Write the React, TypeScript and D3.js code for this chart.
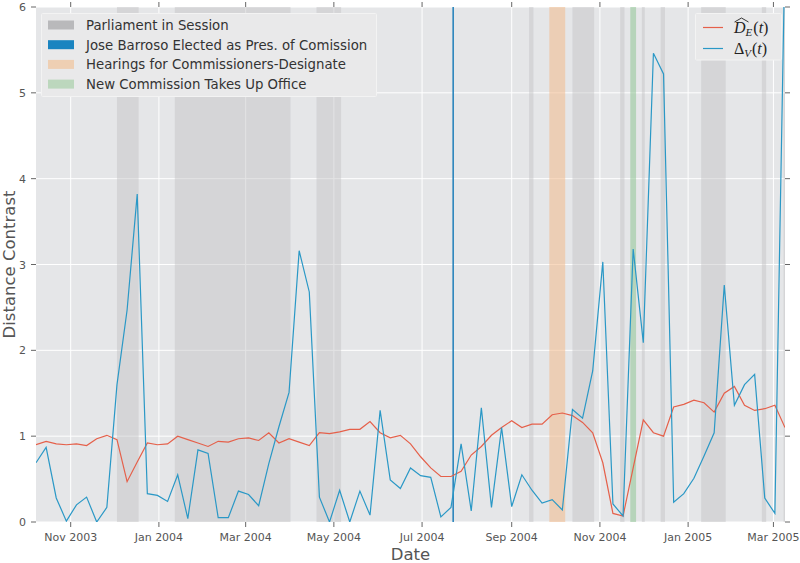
import React from 'react'
import * as d3 from 'd3'

const W = 800
const H = 563
const M = { left: 36, right: 15, top: 7, bottom: 41 }

// weekly sampling grid, first week Oct 8 2003
const START = Date.UTC(2003, 9, 8)
const N_WEEKS = 75
const dates = d3.range(N_WEEKS).map(i => new Date(START + i * 7 * 864e5))

// \hat D_E(t)
const distE = [
  0.9, 0.94, 0.91, 0.9, 0.91, 0.89, 0.97, 1.01, 0.96, 0.47,
  0.7, 0.92, 0.9, 0.91, 1.0, 0.96, 0.92, 0.88, 0.94, 0.93,
  0.97, 0.98, 0.95, 1.04, 0.92, 0.97, 0.93, 0.89, 1.04, 1.03,
  1.05, 1.08, 1.08, 1.17, 1.04, 0.98, 1.01, 0.91, 0.76, 0.63,
  0.53, 0.53, 0.59, 0.78, 0.88, 1.01, 1.1, 1.18, 1.1, 1.14,
  1.14, 1.25, 1.27, 1.24, 1.16, 1.04, 0.69, 0.1, 0.07, 0.63,
  1.19, 1.04, 1.0, 1.34, 1.37, 1.42, 1.39, 1.28, 1.5, 1.58,
  1.36, 1.3, 1.32, 1.36, 1.1,
]

// Delta_V(t)
const deltaV = [
  0.69, 0.87, 0.28, 0.01, 0.2, 0.29, 0.0, 0.17, 1.6, 2.47,
  3.82, 0.33, 0.31, 0.24, 0.55, 0.04, 0.84, 0.8, 0.05, 0.05,
  0.36, 0.32, 0.19, 0.68, 1.11, 1.51, 3.16, 2.68, 0.29, 0.0,
  0.37, 0.0, 0.36, 0.08, 1.3, 0.49, 0.39, 0.63, 0.54, 0.52,
  0.06, 0.17, 0.91, 0.13, 1.33, 0.17, 1.1, 0.18, 0.55, 0.37,
  0.22, 0.26, 0.14, 1.31, 1.21, 1.76, 3.03, 0.21, 0.07, 3.18,
  2.09, 5.46, 5.22, 0.23, 0.33, 0.51, 0.77, 1.04, 2.76, 1.36,
  1.6, 1.72, 0.28, 0.1, 6.7,
]

const sessions: [string, string][] = [
  ['2003-12-03', '2003-12-18'], ['2004-01-12', '2004-04-01'], ['2004-04-19', '2004-05-06'],
  ['2004-09-13', '2004-09-16'], ['2004-10-13', '2004-10-28'], ['2004-11-15', '2004-11-18'],
  ['2004-11-30', '2004-12-02'], ['2004-12-13', '2004-12-16'], ['2005-01-10', '2005-01-27'],
  ['2005-02-21', '2005-02-24'], ['2005-03-08', '2005-03-10'],
]
const barroso: [string, string] = ['2004-07-22', '2004-07-23']
const hearings: [string, string] = ['2004-09-27', '2004-10-08']
const newCommission: [string, string] = ['2004-11-22', '2004-11-26']

const yTicks = [0, 1, 2, 3, 4, 5, 6]

const legendItems = [
  { label: 'Parliament in Session', color: '#b9b9bb' },
  { label: 'Jose Barroso Elected as Pres. of Comission', color: '#1a84c0' },
  { label: 'Hearings for Commissioners-Designate', color: '#eecfb3' },
  { label: 'New Commission Takes Up Office', color: '#bcd7bd' },
]

const RED = '#e5604a'
const BLUE = '#2a98c6'
const FONT = '"DejaVu Sans", sans-serif'

export default function App() {
  const ref = React.useRef<SVGSVGElement>(null)

  React.useEffect(() => {
    document.body.style.margin = '0'
    const svg = d3.select(ref.current!)
    svg.selectAll('*').remove()

    const x0 = M.left, x1 = W - M.right, y0 = H - M.bottom, y1 = M.top
    const parse = d3.utcParse('%Y-%m-%d')
    const x = d3.scaleUtc().domain([dates[0], dates[dates.length - 1]]).range([x0, x1])
    const y = d3.scaleLinear().domain([0, 6]).range([y0, y1])
    const xTicks = x.ticks(d3.utcMonth.every(2)!)
    const fmt = d3.utcFormat('%b %Y')

    svg.append('defs').append('clipPath').attr('id', 'plot')
      .append('rect').attr('x', x0).attr('y', y1).attr('width', x1 - x0).attr('height', y0 - y1)

    svg.append('rect').attr('x', x0).attr('y', y1).attr('width', x1 - x0).attr('height', y0 - y1)
      .attr('fill', '#e5e6e8')

    // grid
    const grid = svg.append('g').attr('stroke', '#fff').attr('stroke-width', 1)
    xTicks.forEach(t => grid.append('line').attr('x1', x(t)).attr('x2', x(t)).attr('y1', y1).attr('y2', y0))
    yTicks.forEach(t => grid.append('line').attr('x1', x0).attr('x2', x1).attr('y1', y(t)).attr('y2', y(t)))

    const plot = svg.append('g').attr('clip-path', 'url(#plot)')
    const band = (r: [string, string], fill: string, op: number) =>
      plot.append('rect')
        .attr('x', x(parse(r[0])!)).attr('y', y1)
        .attr('width', x(parse(r[1])!) - x(parse(r[0])!)).attr('height', y0 - y1)
        .attr('fill', fill).attr('opacity', op)
    sessions.forEach(s => band(s, '#c0c0c3', 0.45))
    band(hearings, '#f2b98a', 0.55)
    band(newCommission, '#8fc493', 0.55)
    band(barroso, '#1a7cb8', 1)

    const line = d3.line<number>().x((_, i) => x(dates[i])).y(d => y(d))
    plot.append('path').attr('d', line(distE)).attr('fill', 'none').attr('stroke', RED).attr('stroke-width', 1.2)
    plot.append('path').attr('d', line(deltaV)).attr('fill', 'none').attr('stroke', BLUE).attr('stroke-width', 1.2)

    // ticks on all four sides
    const tk = svg.append('g').attr('stroke', '#666').attr('stroke-width', 1)
    xTicks.forEach(t => {
      tk.append('line').attr('x1', x(t)).attr('x2', x(t)).attr('y1', y0).attr('y2', y0 + 5)
      tk.append('line').attr('x1', x(t)).attr('x2', x(t)).attr('y1', y1).attr('y2', y1 - 5)
    })
    yTicks.forEach(t => {
      tk.append('line').attr('x1', x0 - 5).attr('x2', x0).attr('y1', y(t)).attr('y2', y(t))
      tk.append('line').attr('x1', x1).attr('x2', x1 + 5).attr('y1', y(t)).attr('y2', y(t))
    })

    const lab = svg.append('g').attr('font-family', FONT).attr('fill', '#555')
    xTicks.forEach(t => lab.append('text').attr('x', x(t)).attr('y', y0 + 19)
      .attr('text-anchor', 'middle').attr('font-size', 11).text(fmt(t)))
    yTicks.forEach(t => lab.append('text').attr('x', x0 - 10).attr('y', y(t) + 4)
      .attr('text-anchor', 'end').attr('font-size', 11).text(String(t)))
    lab.append('text').attr('x', (x0 + x1) / 2).attr('y', H - 3).attr('text-anchor', 'middle')
      .attr('font-size', 16.5).text('Date')
    lab.append('text').attr('transform', `translate(15,${(y0 + y1) / 2}) rotate(-90)`)
      .attr('text-anchor', 'middle').attr('font-size', 16.5).text('Distance Contrast')

    // events legend
    const lg = svg.append('g')
    lg.append('rect').attr('x', 41.5).attr('y', 13.5).attr('width', 335).attr('height', 83)
      .attr('fill', '#e9e9ea').attr('stroke', '#f3f3f3').attr('rx', 1)
    legendItems.forEach((d, i) => {
      const cy = 25 + i * 19.7
      lg.append('rect').attr('x', 48).attr('y', cy - 4.5).attr('width', 26).attr('height', 9).attr('fill', d.color)
      lg.append('text').attr('x', 86).attr('y', cy + 5).attr('font-family', FONT).attr('font-size', 13.3)
        .attr('fill', '#333').text(d.label)
    })

    // series legend
    const sl = svg.append('g')
    sl.append('rect').attr('x', 695.5).attr('y', 13.5).attr('width', 86).attr('height', 46.5)
      .attr('fill', '#e9e9ea').attr('stroke', '#f3f3f3').attr('rx', 1)
    const serif = '"Liberation Serif", "DejaVu Serif", serif'
    ;[{ c: RED, cy: 27.5 }, { c: BLUE, cy: 48.5 }].forEach(d =>
      sl.append('line').attr('x1', 703).attr('x2', 723).attr('y1', d.cy).attr('y2', d.cy)
        .attr('stroke', d.c).attr('stroke-width', 1.2))
    const t1 = sl.append('text').attr('x', 734).attr('y', 33).attr('font-family', serif).attr('font-size', 16).attr('fill', '#222')
    t1.append('tspan').attr('font-style', 'italic').text('D')
    t1.append('tspan').attr('font-style', 'italic').attr('font-size', 11).attr('dy', 3).text('E')
    t1.append('tspan').attr('dy', -3).attr('dx', 1).text('(')
    t1.append('tspan').attr('font-style', 'italic').text('t')
    t1.append('tspan').text(')')
    sl.append('path').attr('d', 'M734.5,22 L741.5,18 L748.5,22').attr('fill', 'none').attr('stroke', '#222').attr('stroke-width', 0.9)
    const t2 = sl.append('text').attr('x', 734).attr('y', 53.5).attr('font-family', serif).attr('font-size', 16).attr('fill', '#222')
    t2.append('tspan').text('Δ')
    t2.append('tspan').attr('font-style', 'italic').attr('font-size', 11).attr('dy', 3).text('V')
    t2.append('tspan').attr('dy', -3).attr('dx', 1).text('(')
    t2.append('tspan').attr('font-style', 'italic').text('t')
    t2.append('tspan').text(')')
  }, [])

  return <svg ref={ref} width={W} height={H} style={{ display: 'block', background: '#fff' }} />
}
